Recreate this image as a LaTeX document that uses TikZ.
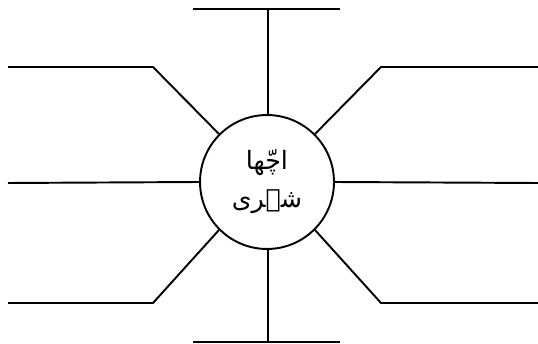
\documentclass[tikz,border=0pt]{standalone}
\usepackage{fontspec}
\newfontfamily\arabicfont[Script=Arabic]{DejaVu Sans}
\TeXXeTstate=1
\begin{document}
\begin{tikzpicture}[x=0.02cm,y=-0.02cm,
  spoke/.style={line width=1.1pt},
  hub/.style={circle,draw,line width=1.1pt,minimum size=2.68cm,inner sep=0pt,
    align=center,font=\arabicfont\Large}]
  \useasboundingbox (0,0) rectangle (538,344);

  % centre
  \node[hub] (c) at (267,182) {\beginR اچّھا\endR\\[4pt]\beginR شہری\endR};

  % ends of the spokes
  \coordinate (tp) at (268,9);
  \coordinate (tpl) at (193,9);
  \coordinate (tpr) at (340,9);
  \coordinate (bt) at (268,342);
  \coordinate (btl) at (193,342);
  \coordinate (btr) at (340,342);
  \coordinate (ul) at (153,67);
  \coordinate (ulx) at (8,67);
  \coordinate (ml) at (8,183);
  \coordinate (ll) at (153,303);
  \coordinate (llx) at (8,303);
  \coordinate (ur) at (381,67);
  \coordinate (urx) at (538,67);
  \coordinate (mr) at (538,183);
  \coordinate (lr) at (381,303);
  \coordinate (lrx) at (538,303);

  % top and bottom
  \draw[spoke] (c.north -| tp) -- (tp);
  \draw[spoke] (tpl) -- (tpr);
  \draw[spoke] (c.south -| bt) -- (bt);
  \draw[spoke] (btl) -- (btr);

  % left side
  \draw[spoke] (c.135) -- (ul) -- (ulx);
  \draw[spoke] (c.west) -- (ml);
  \draw[spoke] (c.225) -- (ll) -- (llx);

  % right side
  \draw[spoke] (c.45) -- (ur) -- (urx);
  \draw[spoke] (c.east) -- (mr);
  \draw[spoke] (c.315) -- (lr) -- (lrx);
\end{tikzpicture}
\end{document}
